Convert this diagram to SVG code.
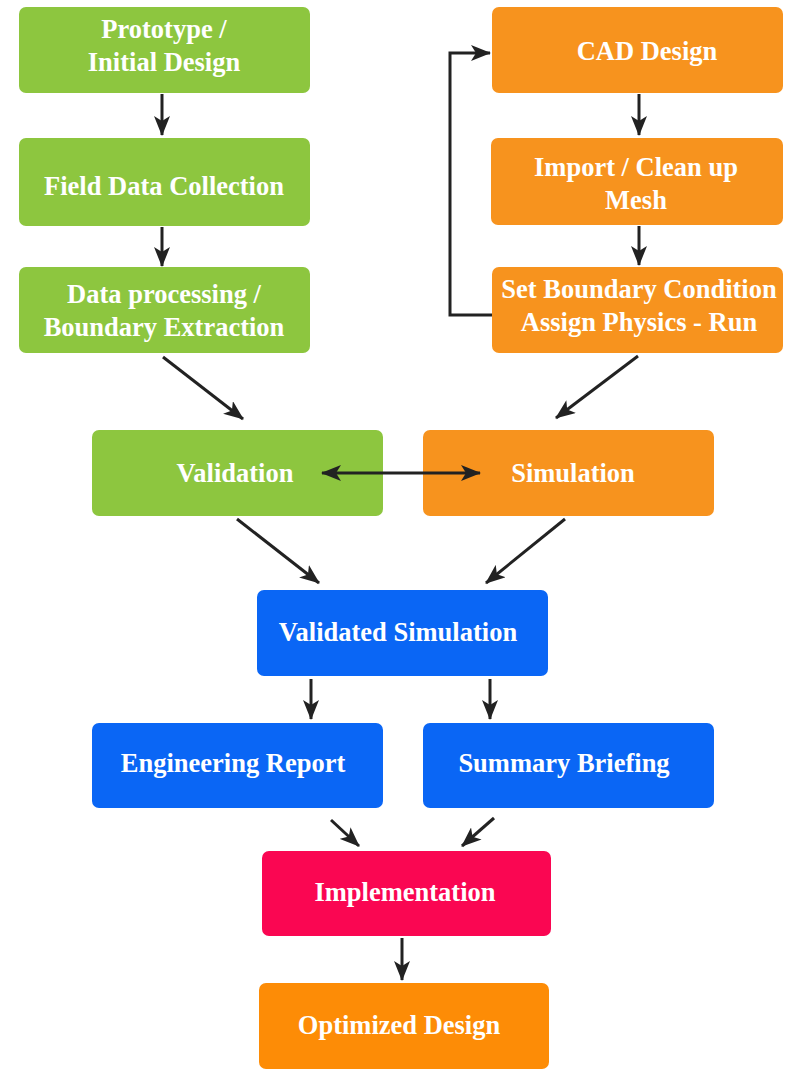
<svg xmlns="http://www.w3.org/2000/svg" width="795" height="1072" viewBox="0 0 795 1072">
<style>
.g{fill:#8DC63F}
.o{fill:#F7931E}
.b{fill:#0A66F5}
.r{fill:#FA0652}
.oo{fill:#FD8C06}
text{font-family:"Liberation Serif","Times New Roman",serif;font-weight:bold;font-size:26.5px;fill:#FFFFFF;text-anchor:middle}
.c line,.c polyline{stroke:#222;stroke-width:3;fill:none}
</style>
<defs>
<marker id="ah" viewBox="0 0 20 16" markerWidth="20" markerHeight="16" refX="19" refY="8" orient="auto-start-reverse" markerUnits="userSpaceOnUse">
<path d="M0,0 L20,8 L0,16 L5,8 z" fill="#222"/>
</marker>
</defs>
<rect width="795" height="1072" fill="#FFFFFF"/>
<g id="prototype"><rect class="g" x="19" y="7" width="291" height="86" rx="7"/><text x="164" y="38">Prototype /</text><text x="164" y="71">Initial Design</text></g>
<g id="field"><rect class="g" x="19" y="138" width="291" height="88" rx="7"/><text x="164" y="195">Field Data Collection</text></g>
<g id="dataproc"><rect class="g" x="19" y="267" width="291" height="86" rx="7"/><text x="164" y="303">Data processing /</text><text x="164" y="336">Boundary Extraction</text></g>
<g id="cad"><rect class="o" x="492" y="7" width="291" height="86" rx="7"/><text x="647" y="60">CAD Design</text></g>
<g id="import"><rect class="o" x="491" y="138" width="292" height="87" rx="7"/><text x="636" y="176">Import / Clean up</text><text x="636" y="209">Mesh</text></g>
<g id="setbc"><rect class="o" x="492" y="267" width="291" height="86" rx="7"/><text x="639" y="298">Set Boundary Condition</text><text x="639" y="331">Assign Physics - Run</text></g>
<g id="validation"><rect class="g" x="92" y="430" width="291" height="86" rx="7"/><text x="235" y="482">Validation</text></g>
<g id="simulation"><rect class="o" x="423" y="430" width="291" height="86" rx="7"/><text x="573" y="482">Simulation</text></g>
<g id="validated"><rect class="b" x="257" y="590" width="291" height="86" rx="7"/><text x="398" y="641">Validated Simulation</text></g>
<g id="engreport"><rect class="b" x="92" y="723" width="291" height="85" rx="7"/><text x="233" y="772">Engineering Report</text></g>
<g id="summary"><rect class="b" x="423" y="723" width="291" height="85" rx="7"/><text x="564" y="772">Summary Briefing</text></g>
<g id="implementation"><rect class="r" x="262" y="851" width="289" height="85" rx="7"/><text x="405" y="901">Implementation</text></g>
<g id="optimized"><rect class="oo" x="259" y="983" width="290" height="86" rx="7"/><text x="399" y="1034">Optimized Design</text></g>
<g class="c" id="connectors">
<line x1="162" y1="94" x2="162" y2="135" marker-end="url(#ah)"/>
<line x1="162" y1="227" x2="162" y2="266" marker-end="url(#ah)"/>
<line x1="639" y1="94" x2="639" y2="135" marker-end="url(#ah)"/>
<line x1="639" y1="226" x2="639" y2="265" marker-end="url(#ah)"/>
<polyline points="492,315 450,315 450,53 490,53" marker-end="url(#ah)"/>
<line x1="163" y1="357" x2="243" y2="419" marker-end="url(#ah)"/>
<line x1="638" y1="356" x2="556" y2="418" marker-end="url(#ah)"/>
<line x1="322" y1="473" x2="480" y2="473" marker-start="url(#ah)" marker-end="url(#ah)"/>
<line x1="237" y1="519" x2="319" y2="583" marker-end="url(#ah)"/>
<line x1="565" y1="519" x2="486" y2="583" marker-end="url(#ah)"/>
<line x1="311" y1="679" x2="311" y2="719" marker-end="url(#ah)"/>
<line x1="490" y1="679" x2="490" y2="719" marker-end="url(#ah)"/>
<line x1="331" y1="820" x2="359" y2="846" marker-end="url(#ah)"/>
<line x1="494" y1="818" x2="462" y2="846" marker-end="url(#ah)"/>
<line x1="402" y1="938" x2="402" y2="980" marker-end="url(#ah)"/>
</g>
</svg>
